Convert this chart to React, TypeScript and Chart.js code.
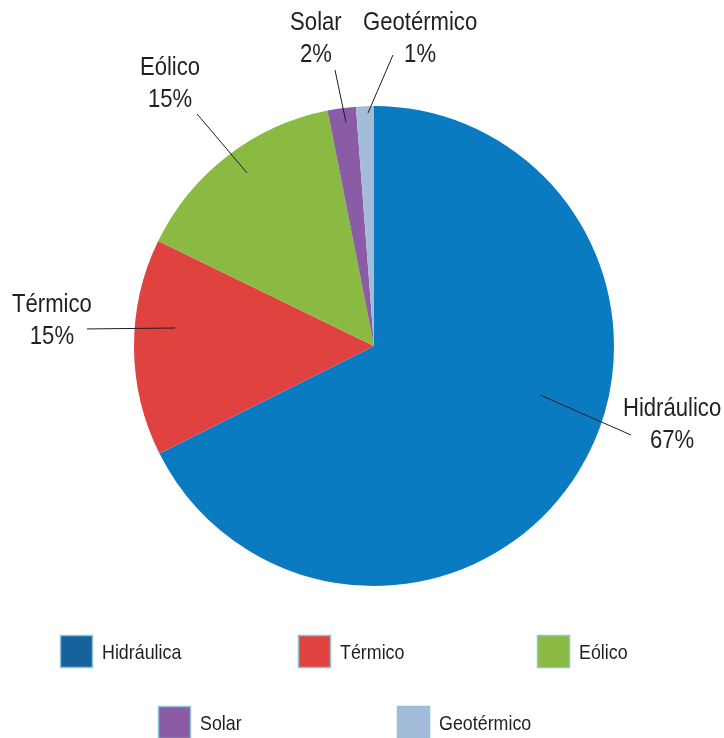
import React, { useEffect, useRef } from "react";
import { Chart, registerables } from "chart.js";

Chart.register(...registerables);

const categories = ["Hidráulico", "Térmico", "Eólico", "Solar", "Geotérmico"];
const values = [67.6, 14.6, 14.7, 1.9, 1.2];
const percentLabels = ["67%", "15%", "15%", "2%", "1%"];
const legendLabels = ["Hidráulica", "Térmico", "Eólico", "Solar", "Geotérmico"];
const sliceColors = ["#0b7bc1", "#e0433f", "#8aba42", "#8a5ca5", "#a3bcd9"];
const legendColors = ["#15629c", "#e0433f", "#8aba42", "#8a5ca5", "#a3bcd9"];

// label placement, relative to pie centre in units of radius
const labelLayout = [
  { sx: 0.692, sy: 0.204, ex: 1.071, ey: 0.371, tx: 1.242, ty: 0.262 },
  { sx: -1.196, sy: -0.071, ex: -0.829, ey: -0.075, tx: -1.342, ty: -0.17 },
  { sx: -0.7375, sy: -0.967, ex: -0.529, ey: -0.721, tx: -0.85, ty: -1.158 },
  { sx: -0.1625, sy: -1.15, ex: -0.117, ey: -0.933, tx: -0.242, ty: -1.346 },
  { sx: 0.079, sy: -1.2125, ex: -0.025, ey: -0.971, tx: 0.192, ty: -1.346 },
];

const legendPos = [
  { x: 60, y: 635 },
  { x: 298, y: 635 },
  { x: 537, y: 635 },
  { x: 158, y: 706 },
  { x: 397, y: 706 },
];

const FONT = '"Liberation Sans", Arial, sans-serif';
const NARROW = 0.85;

function narrowText(ctx: CanvasRenderingContext2D, text: string, x: number, y: number) {
  ctx.save();
  ctx.translate(x, y);
  ctx.scale(NARROW, 1);
  ctx.fillText(text, 0, 0);
  ctx.restore();
}

const labelPlugin = {
  id: "pieLabels",
  afterDraw(chart: any) {
    const ctx = chart.ctx as CanvasRenderingContext2D;
    const arc = chart.getDatasetMeta(0).data[0];
    if (!arc) return;
    const cx = arc.x;
    const cy = arc.y;
    const r = arc.outerRadius;
    ctx.save();
    labelLayout.forEach((l, i) => {
      ctx.strokeStyle = "#1e1e1e";
      ctx.lineWidth = 1;
      ctx.beginPath();
      ctx.moveTo(cx + l.sx * r, cy + l.sy * r);
      ctx.lineTo(cx + l.ex * r, cy + l.ey * r);
      ctx.stroke();
      ctx.fillStyle = "#231f20";
      ctx.font = `26px ${FONT}`;
      ctx.textAlign = "center";
      ctx.textBaseline = "middle";
      const tx = cx + l.tx * r;
      const ty = cy + l.ty * r;
      narrowText(ctx, categories[i], tx, ty);
      narrowText(ctx, percentLabels[i], tx, ty + 32);
    });
    // legend
    legendPos.forEach((p, i) => {
      ctx.fillStyle = legendColors[i];
      ctx.fillRect(p.x, p.y, 33, 33);
      ctx.strokeStyle = "#8ec3d2";
      ctx.lineWidth = 1.5;
      ctx.strokeRect(p.x + 0.5, p.y + 0.5, 32, 32);
      ctx.fillStyle = "#231f20";
      ctx.font = `21px ${FONT}`;
      ctx.textAlign = "left";
      ctx.textBaseline = "middle";
      narrowText(ctx, legendLabels[i], p.x + 42, p.y + 18);
    });
    ctx.restore();
  },
};

export default function App() {
  const ref = useRef<HTMLCanvasElement>(null);
  useEffect(() => {
    document.body.style.margin = "0";
    const chart = new Chart(ref.current!, {
      type: "pie",
      data: {
        labels: categories,
        datasets: [
          {
            data: values,
            backgroundColor: sliceColors,
            borderWidth: 0,
          },
        ],
      },
      options: {
        animation: false,
        responsive: false,
        layout: { padding: { left: 134, right: 110, top: 106, bottom: 152 } },
        plugins: {
          legend: { display: false },
          tooltip: { enabled: false },
        },
      },
      plugins: [labelPlugin],
    });
    return () => chart.destroy();
  }, []);
  return (
    <div style={{ position: "absolute", left: 0, top: 0, width: 724, height: 738, background: "#fff" }}>
      <canvas ref={ref} width={724} height={738} style={{ display: "block" }} />
    </div>
  );
}
